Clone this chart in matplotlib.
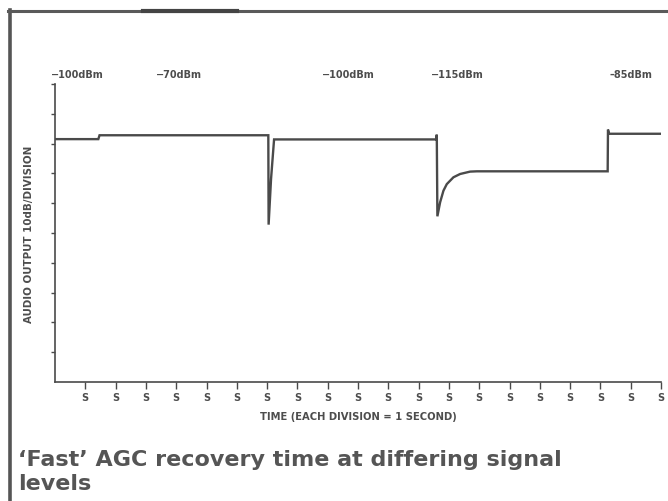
import matplotlib
matplotlib.use("Agg")
import matplotlib.pyplot as plt
from matplotlib.lines import Line2D

# trace: time in seconds, level in divisions (10dB each)
time_s = [0.0, 1.43, 1.47, 7.04, 7.05, 7.13, 7.23, 12.58, 12.60, 12.62,
          12.71, 12.82, 12.93, 13.15, 13.37, 13.70, 13.92, 18.24, 18.25,
          18.29, 20.0]
level_div = [8.15, 8.15, 8.28, 8.28, 5.28, 6.81, 8.14, 8.14, 8.30, 5.56,
             6.03, 6.42, 6.64, 6.87, 6.98, 7.06, 7.07, 7.07, 8.47,
             8.33, 8.33]

# signal level captions above the trace
level_names = ["\u2212100dBm", "\u221270dBm", "\u2212100dBm", "\u2212115dBm", "\u201385dBm"]
level_t = [0.73, 4.09, 9.67, 13.27, 19.0]

x_ticks = list(range(1, 21))
x_ticklabels = ["S"] * 20
y_ticks = list(range(1, 11))

ink = "#4a4a4a"
txt = "#4d4d4d"

W, H = 668, 502
fig = plt.figure(figsize=(W / 100, H / 100), dpi=100)
fig.patch.set_facecolor("white")

ax = fig.add_axes([55 / W, (H - 383) / H, (661 - 55) / W, (383 - 85) / H])
ax.plot(time_s, level_div, color=ink, lw=1.7, solid_joinstyle="miter")
ax.set_xlim(0, 20)
ax.set_ylim(0, 10)

for s in ["top", "right"]:
    ax.spines[s].set_visible(False)
for s in ["left", "bottom"]:
    ax.spines[s].set_color(ink)
    ax.spines[s].set_linewidth(1.2)

ax.set_xticks(x_ticks)
ax.set_xticklabels(x_ticklabels, fontsize=7, fontweight="bold", color=txt)
ax.set_yticks(y_ticks)
ax.set_yticklabels([])
ax.tick_params(axis="x", direction="out", length=5, width=1.0, color=ink, pad=2)
ax.tick_params(axis="y", direction="out", length=3, width=1.0, color=ink)

ax.set_xlabel("TIME (EACH DIVISION = 1 SECOND)", fontsize=7.2, fontweight="bold",
              color=txt, labelpad=7)
ax.set_ylabel("AUDIO OUTPUT 10dB/DIVISION", fontsize=7.4, fontweight="bold",
              color=txt, labelpad=8.5)

for name, t in zip(level_names, level_t):
    ax.text(t, 10.35, name, ha="center", va="center", fontsize=7,
            fontweight="bold", color=txt, clip_on=False)

# caption under the chart
fig.text(18 / W, 1 - 466.5 / H, "\u2018Fast\u2019 AGC recovery time at differing signal",
         ha="left", va="baseline", fontsize=16, fontweight="bold", color="#555555")
fig.text(18 / W, 1 - 490.5 / H, "levels",
         ha="left", va="baseline", fontsize=16, fontweight="bold", color="#555555")

# page frame (top and left rules of the scanned box)
fig.add_artist(Line2D([9.5 / W, 9.5 / W], [0, 1 - 11 / H], transform=fig.transFigure,
                      color="#555555", lw=2.6))
fig.add_artist(Line2D([8 / W, 1], [1 - 11.5 / H, 1 - 11.5 / H], transform=fig.transFigure,
                      color="#5a5a5a", lw=2.2))
fig.add_artist(Line2D([143 / W, 237 / W], [1 - 12 / H, 1 - 12 / H], transform=fig.transFigure,
                      color="#444444", lw=3.0))

fig.savefig("out.png", dpi=100)
